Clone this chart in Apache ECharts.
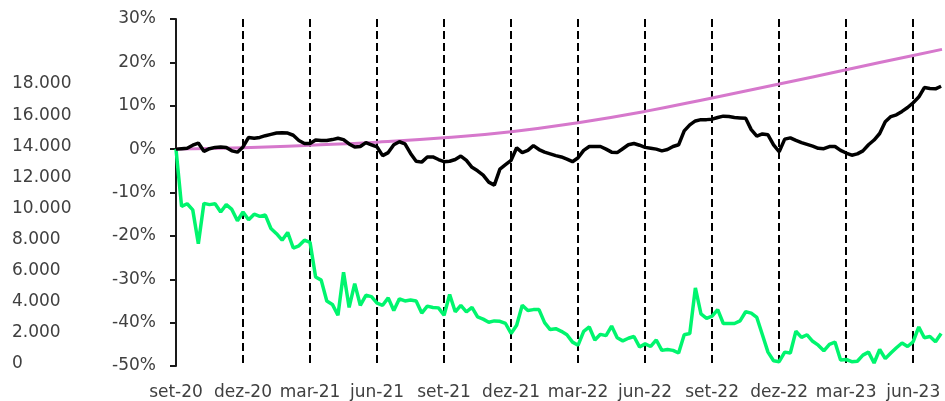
<!DOCTYPE html>
<html>
<head>
<meta charset="utf-8">
<title>Retorno acumulado</title>
<script src="https://cdn.jsdelivr.net/npm/echarts@6/dist/echarts.min.js"></script>
<style>
  html, body { margin: 0; padding: 0; background: #fff; }
  #chart { width: 945px; height: 401px; }
</style>
</head>
<body>
<div id="chart"></div>
<script>
// months between two readings of the daily lines (first reading = set-20)
var STEP = 0.25;

var tickLabels = ['set-20', 'dez-20', 'mar-21', 'jun-21', 'set-21', 'dez-21',
                  'mar-22', 'jun-22', 'set-22', 'dez-22', 'mar-23', 'jun-23'];

// black line, %
var blackValues = [
  0, 0.1, 0.2, 0.9, 1.4, -0.5, 0.1, 0.4, 0.5, 0.4, -0.4, -0.7,
  0.5, 2.7, 2.5, 2.7, 3.1, 3.4, 3.7, 3.8, 3.7, 3.2, 2.0, 1.3,
  1.3, 2.1, 2.0, 2.0, 2.2, 2.5, 2.2, 1.2, 0.5, 0.6, 1.5, 1.0,
  0.5, -1.5, -0.8, 1.0, 1.7, 1.2, -1.0, -2.8, -3.0, -1.8, -1.8, -2.4,
  -2.9, -2.8, -2.4, -1.6, -2.6, -4.2, -5.0, -6.0, -7.6, -8.3, -4.6, -3.6,
  -2.6, 0.3, -0.8, -0.3, 0.8, -0.1, -0.7, -1.1, -1.5, -1.8, -2.3, -2.9,
  -2.0, -0.3, 0.6, 0.6, 0.6, 0.0, -0.7, -0.8, 0.1, 1.0, 1.3, 0.9,
  0.4, 0.2, 0.0, -0.4, -0.1, 0.6, 1.0, 4.2, 5.6, 6.5, 6.8, 6.8,
  6.9, 7.3, 7.6, 7.5, 7.3, 7.2, 7.1, 4.5, 3.0, 3.5, 3.3, 1.0,
  -0.6, 2.3, 2.6, 2.0, 1.5, 1.1, 0.7, 0.2, 0.1, 0.6, 0.6, -0.3,
  -0.9, -1.4, -1.1, -0.4, 1.0, 2.1, 3.6, 6.3, 7.5, 7.9, 8.7, 9.6,
  10.7, 12.0, 14.2, 14.0, 13.9, 14.5
];

// green line, %
var greenValues = [
  0, -13.2, -12.6, -14.0, -21.8, -12.5, -12.8, -12.6, -14.5, -12.8, -13.9, -16.5,
  -14.5, -16.3, -15.0, -15.5, -15.2, -18.3, -19.5, -21.0, -19.2, -22.8, -22.3, -21.0,
  -21.5, -29.5, -30.2, -35.0, -35.8, -38.3, -28.4, -36.5, -31.0, -36.0, -33.7, -34.0,
  -35.5, -36.0, -34.3, -37.2, -34.5, -35.0, -34.8, -35.0, -37.8, -36.2, -36.5, -36.6,
  -38.3, -33.5, -37.5, -36.0, -37.5, -36.5, -38.7, -39.2, -39.9, -39.6, -39.7, -40.2,
  -42.5, -40.6, -36.0, -37.2, -37.0, -37.0, -40.0, -41.6, -41.4, -42.0, -42.8, -44.5,
  -45.2, -42.0, -41.0, -44.0, -42.7, -43.0, -40.8, -43.5, -44.2, -43.6, -43.2, -45.6,
  -44.9, -45.5, -44.0, -46.4, -46.2, -46.4, -47.0, -42.8, -42.5, -32.0, -38.0, -39.0,
  -38.5, -37.0, -40.2, -40.2, -40.2, -39.6, -37.5, -37.8, -38.8, -42.8, -46.8, -48.8,
  -49.0, -46.8, -47.0, -42.0, -43.4, -42.8, -44.3, -45.2, -46.5, -45.0, -44.5, -48.6,
  -48.5, -49.0, -48.9, -47.5, -46.8, -49.3, -46.2, -48.3, -47.0, -45.8, -44.7, -45.5,
  -44.4, -41.0, -43.5, -43.2, -44.4, -42.5
];

// pink curve, % at each quarter and at the right edge
var pinkMonths = [0, 3, 6, 9, 12, 15, 18, 21, 24, 27, 30, 33, 34.29];
var pinkValues = [0, 0.3, 0.9, 1.6, 2.6, 4.0, 6.1, 8.7, 11.8, 15.0, 18.3, 21.6, 23.0];

function byStep(values) {
  return values.map(function (v, i) { return [i * STEP, v]; });
}

function thousands(v) {
  return String(v).replace(/\B(?=(\d{3})+(?!\d))/g, '.');
}

var font = 'DejaVu Sans';
var textColor = '#404040';

var chart = echarts.init(document.getElementById('chart'));
chart.setOption({
  animation: false,
  grid: [
    { left: 176, top: 19, right: 0, bottom: 34 },
    { left: 12, top: 84, width: 10, bottom: 37 }
  ],
  xAxis: [
    {
      type: 'value',
      gridIndex: 0,
      min: 0,
      max: 34.29,
      interval: 3,
      axisLine: { show: false },
      axisTick: { show: false },
      axisLabel: {
        margin: 18,
        hideOverlap: false,
        color: textColor,
        fontFamily: font,
        fontSize: 17,
        formatter: function (v) {
          var k = Math.round(v / 3);
          return Math.abs(v - k * 3) < 1e-6 ? (tickLabels[k] || '') : '';
        }
      },
      splitLine: {
        show: true,
        showMinLine: false,
        showMaxLine: false,
        lineStyle: { color: '#000', width: 2, type: [8, 4] }
      }
    },
    { type: 'value', gridIndex: 1, min: 0, max: 1, show: false }
  ],
  yAxis: [
    {
      type: 'value',
      gridIndex: 0,
      min: -50,
      max: 30,
      interval: 10,
      axisLine: { show: true, lineStyle: { color: '#1a1a1a', width: 2 } },
      axisTick: { show: true, length: 6, lineStyle: { color: '#1a1a1a', width: 2 } },
      splitLine: { show: false },
      axisLabel: {
        margin: 20,
        color: textColor,
        fontFamily: font,
        fontSize: 17,
        padding: [0, 0, 6, 0],
        formatter: '{value}%'
      }
    },
    {
      type: 'value',
      gridIndex: 1,
      min: 0,
      max: 18000,
      interval: 2000,
      axisLine: { show: false },
      axisTick: { show: false },
      splitLine: { show: false },
      axisLabel: {
        align: 'left',
        margin: 0,
        color: textColor,
        fontFamily: font,
        fontSize: 17,
        formatter: thousands
      }
    }
  ],
  series: [
    {
      type: 'line',
      data: byStep(greenValues),
      showSymbol: false,
      lineStyle: { color: '#00f56e', width: 3.5 },
      z: 2
    },
    {
      type: 'line',
      data: pinkMonths.map(function (m, i) { return [m, pinkValues[i]]; }),
      smooth: true,
      showSymbol: false,
      lineStyle: { color: '#d678cc', width: 3 },
      z: 3
    },
    {
      type: 'line',
      data: byStep(blackValues),
      showSymbol: false,
      lineStyle: { color: '#000', width: 3.5 },
      z: 4
    }
  ]
});
</script>
</body>
</html>
